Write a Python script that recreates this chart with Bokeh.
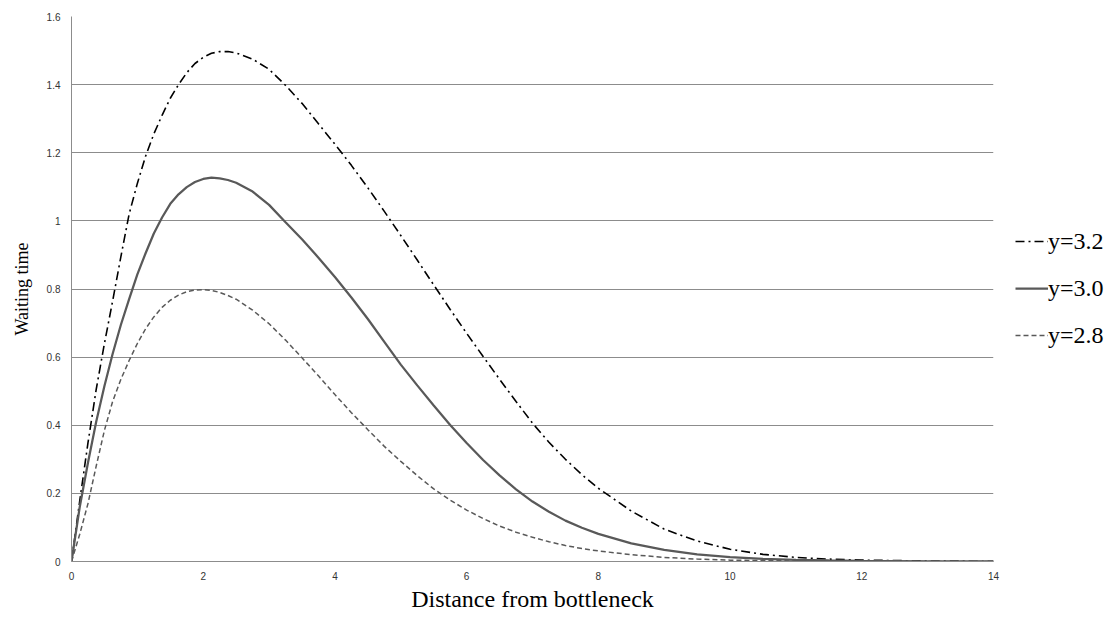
from bokeh.plotting import figure
from bokeh.models import Range1d, FixedTicker, Legend, LegendItem
from bokeh.embed import file_html
from bokeh.resources import INLINE

# ---- data ----
distance = [0, 0.125, 0.25, 0.375, 0.5, 0.625, 0.75, 0.875, 1.0, 1.125, 1.25, 1.375, 1.5, 1.625,
            1.75, 1.875, 2.0, 2.125, 2.25, 2.375, 2.5,
            2.75, 3.0, 3.25, 3.5, 3.75, 4.0, 4.25, 4.5, 4.75, 5.0, 5.25, 5.5, 5.75, 6.0,
            6.25, 6.5, 6.75, 7.0, 7.25, 7.5, 7.75, 8.0,
            8.5, 9.0, 9.5, 10.0, 10.5, 11.0, 11.5, 12.0, 13.0, 14.0]

wait_32 = [0, 0.178, 0.348, 0.505, 0.64, 0.765, 0.895, 1.02, 1.11, 1.19, 1.255, 1.31, 1.36, 1.40,
           1.435, 1.462, 1.48, 1.492, 1.497, 1.497, 1.493,
           1.475, 1.445, 1.398, 1.345, 1.285, 1.225, 1.163, 1.097, 1.028, 0.957, 0.885, 0.812, 0.74, 0.67,
           0.602, 0.535, 0.47, 0.406, 0.35, 0.30, 0.255, 0.215,
           0.148, 0.095, 0.06, 0.036, 0.021, 0.012, 0.007, 0.004, 0.0015, 0.0005]

wait_30 = [0, 0.16, 0.29, 0.41, 0.515, 0.61, 0.695, 0.77, 0.843, 0.905, 0.963, 1.01, 1.05, 1.078,
           1.099, 1.114, 1.123, 1.127, 1.125, 1.12, 1.112,
           1.086, 1.047, 0.996, 0.946, 0.892, 0.835, 0.775, 0.712, 0.645, 0.578, 0.517, 0.458, 0.401, 0.348,
           0.298, 0.253, 0.212, 0.176, 0.146, 0.12, 0.099, 0.081,
           0.053, 0.034, 0.021, 0.013, 0.008, 0.005, 0.003, 0.002, 0.0006, 0.0002]

wait_28 = [0, 0.08, 0.17, 0.28, 0.385, 0.47, 0.535, 0.59, 0.64, 0.683, 0.718, 0.746, 0.767, 0.782,
           0.792, 0.797, 0.798, 0.796, 0.79, 0.781, 0.77,
           0.738, 0.698, 0.65, 0.598, 0.545, 0.49, 0.437, 0.387, 0.338, 0.294, 0.252, 0.213, 0.18, 0.151,
           0.126, 0.104, 0.086, 0.071, 0.058, 0.047, 0.038, 0.031,
           0.02, 0.012, 0.007, 0.004, 0.0025, 0.0015, 0.001, 0.0005, 0.0002, 0.0001]

series_labels = ["y=3.2", "y=3.0", "y=2.8"]

x_ticks = [0, 2, 4, 6, 8, 10, 12, 14]
x_tick_labels = ["0", "2", "4", "6", "8", "10", "12", "14"]
y_ticks = [0, 0.2, 0.4, 0.6, 0.8, 1.0, 1.2, 1.4, 1.6]
y_tick_labels = ["0", "0.2", "0.4", "0.6", "0.8", "1", "1.2", "1.4", "1.6"]

x_title = "Distance from bottleneck"
y_title = "Waiting time"

# ---- figure ----
p = figure(frame_width=922, frame_height=545,
           x_range=Range1d(0, 14), y_range=Range1d(0, 1.6),
           output_backend="svg", toolbar_location=None,
           min_border_left=71, min_border_top=16, min_border_right=120, min_border_bottom=0)
p.outline_line_color = None
p.background_fill_color = "white"
p.border_fill_color = "white"

p.xgrid.grid_line_color = None
p.ygrid.grid_line_color = "#8c8c8c"
p.ygrid.grid_line_width = 1

p.xaxis.ticker = FixedTicker(ticks=x_ticks)
p.yaxis.ticker = FixedTicker(ticks=y_ticks)
p.xaxis.major_label_overrides = {t: l for t, l in zip(x_ticks, x_tick_labels)}
p.yaxis.major_label_overrides = {t: l for t, l in zip(y_ticks, y_tick_labels)}

for ax in (p.xaxis, p.yaxis):
    ax.axis_line_color = "#8c8c8c"
    ax.axis_line_width = 1
    ax.major_tick_line_color = None
    ax.minor_tick_line_color = None
    ax.major_tick_out = 0
    ax.major_tick_in = 0
    ax.minor_tick_out = 0
    ax.minor_tick_in = 0
    ax.major_label_text_font = "Liberation Sans"
    ax.major_label_text_font_size = "10px"
    ax.major_label_text_color = "#333333"
    ax.axis_label_text_font = "Liberation Serif"
    ax.axis_label_text_font_style = "normal"
    ax.axis_label_text_color = "#000000"

p.xaxis.axis_label_text_font_size = "24px"
p.yaxis.axis_label_text_font_size = "18px"
p.xaxis.major_label_standoff = 10
p.yaxis.major_label_standoff = 11
p.xaxis.axis_label = x_title
p.yaxis.axis_label = y_title
p.xaxis.axis_label_standoff = 3
p.yaxis.axis_label_standoff = 12

r32 = p.line(distance, wait_32, line_color="#000000", line_width=1.6, line_dash="9 4 2 4")
r30 = p.line(distance, wait_30, line_color="#595959", line_width=2.25)
r28 = p.line(distance, wait_28, line_color="#595959", line_width=1.5, line_dash="5 3")

legend = Legend(items=[LegendItem(label=series_labels[0], renderers=[r32]),
                       LegendItem(label=series_labels[1], renderers=[r30]),
                       LegendItem(label=series_labels[2], renderers=[r28])],
                location=(22, 212), orientation="vertical")
legend.border_line_color = None
legend.background_fill_alpha = 0
legend.label_text_font = "Liberation Serif"
legend.label_text_font_size = "24px"
legend.label_text_color = "#000000"
legend.glyph_width = 33
legend.glyph_height = 28
legend.label_standoff = 0
legend.label_height = 28
legend.spacing = 19
legend.padding = 0
legend.margin = 0
p.add_layout(legend, "right")

open("out.html", "w").write(file_html(p, INLINE))
